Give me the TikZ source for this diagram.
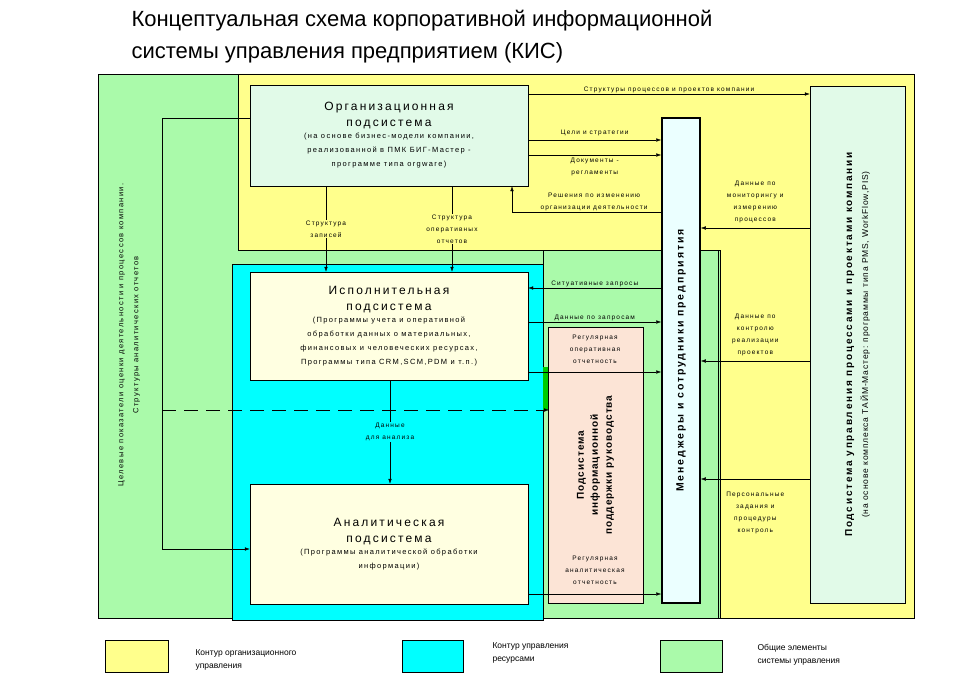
\documentclass[tikz,border=0pt]{standalone}
\usepackage{fontspec}
\setmainfont{Liberation Sans}
\newfontfamily\spaced[LetterSpace=18]{Liberation Sans}
\newfontfamily\wide[LetterSpace=10]{Liberation Sans}
\newcommand\headfont{\spaced\fontsize{12}{16}\selectfont}
\usetikzlibrary{arrows.meta, calc, positioning}
\definecolor{orgyellow}{RGB}{255,255,140}
\definecolor{resblue}{RGB}{0,255,255}
\definecolor{comgreen}{RGB}{170,250,170}
\definecolor{boxmint}{RGB}{225,250,232}
\definecolor{boxcream}{RGB}{255,255,225}
\definecolor{boxpink}{RGB}{252,228,214}
\definecolor{boxice}{RGB}{235,255,255}
\tikzset{
  arr/.style={-{Latex[length=5pt,width=3.5pt]}, thin},
  lbl/.style={font=\spaced\fontsize{6.5}{12}\selectfont, align=center, inner sep=1pt},
  sub/.style={draw, thin, align=center, font=\spaced\fontsize{7.5}{14}\selectfont},
}
\begin{document}
\begin{tikzpicture}[x=1pt, y=-1pt]
\useasboundingbox (0,0) rectangle (964,682);
\fill[white] (0,0) rectangle (964,682);

% Title
\node[anchor=west, font=\fontsize{22}{32}\selectfont, align=left] (title) at (128,37)
  {Концептуальная схема корпоративной информационной\\системы управления предприятием (КИС)};

% Contours
\draw[fill=comgreen] (98,74) rectangle (720,618);
\draw[fill=orgyellow] (238,74) -- (914,74) -- (914,618) -- (720,618) -- (720,250) -- (238,250) -- cycle;
\draw[fill=comgreen] (543,250) rectangle (718,618);
\draw[fill=resblue] (232,264) rectangle (543,620);
\fill[green!80!black] (543,367) rectangle (549,410);

% Subsystems
\node[sub, fill=boxmint, minimum width=278, minimum height=101] (org) at (389,135.5)
  {\parbox{270pt}{\centering{\headfont Организационная\\подсистема\\}\vspace{-2pt}(на основе бизнес-модели компании,\\реализованной в ПМК БИГ-Мастер -\\программе типа orgware)}};
\node[sub, fill=boxcream, minimum width=278, minimum height=108] (exec) at (389,326)
  {\parbox{270pt}{\centering{\headfont Исполнительная\\подсистема\\}\vspace{-2pt}(Программы учета и оперативной\\обработки данных о материальных,\\финансовых и человеческих ресурсах,\\Программы типа CRM,SCM,PDM и т.п.)}};
\node[sub, fill=boxcream, minimum width=278, minimum height=120] (anal) at (389,544)
  {\parbox{270pt}{\centering{\headfont Аналитическая\\подсистема\\}\vspace{-2pt}(Программы аналитической обработки\\информации)}};
\node[draw, thin, fill=boxpink, minimum width=95, minimum height=276] (eis) at (595.5,465) {};
\node[rotate=90, align=center, font=\wide\bfseries\fontsize{10}{14}\selectfont] at (eis.center)
  {Подсистема\\информационной\\поддержки руководства};
\node[draw, line width=1.5pt, fill=boxice, minimum width=38, minimum height=485] (mgr) at (681,360.5) {};
\node[rotate=90, font=\spaced\bfseries\fontsize{10.5}{13}\selectfont] at (mgr.center)
  {Менеджеры и сотрудники предприятия};
\node[draw, thin, fill=boxmint, minimum width=95, minimum height=517] (pms) at (857.5,344.5) {};
\node[rotate=90, align=center, font=\wide\fontsize{8.5}{16}\selectfont] at (pms.center)
  {{\spaced\bfseries\fontsize{10}{16}\selectfont Подсистема управления процессами и проектами компании}\\(на основе комплекса ТАЙМ-Мастер: программы типа PMS, WorkFlow,PIS)};

% Left side text
\node[rotate=90, align=center, font=\spaced\fontsize{7.5}{15}\selectfont] (goals) at (129,335)
  {Целевые показатели оценки деятельности и процессов компании.\\Структуры аналитических отчетов};

% Org links
\draw[arr] (org.east |- 0,94) -- (pms.west |- 0,94)
  node[lbl, midway, above] {Структуры процессов и проектов компании};
\draw[arr] (org.east |- 0,140) -- (mgr.west |- 0,140)
  node[lbl, midway, above=3pt] {Цели и стратегии};
\draw[arr] (org.east |- 0,155) -- (mgr.west |- 0,155)
  node[lbl, midway, below=2pt] {Документы -\\регламенты};
\draw[arr] (mgr.west |- 0,212) -- (512,212)
  node[lbl, pos=0.45, above] {Решения по изменению\\организации деятельности} -- (org.south -| 512,0);
\draw[arr] (pms.west |- 0,228) -- (mgr.east |- 0,228)
  node[lbl, midway, above=4pt] {Данные по\\мониторингу и\\измерению\\процессов};
\draw[arr] (org.south -| 326,0) -- (exec.north -| 326,0)
  node[lbl, midway, fill=orgyellow] {Структура\\записей};
\draw[arr] (org.south -| 452,0) -- (exec.north -| 452,0)
  node[lbl, midway, fill=orgyellow] {Структура\\оперативных\\отчетов};

% Exec links
\draw[arr] (mgr.west |- 0,288) -- (exec.east |- 0,288)
  node[lbl, midway, above] {Ситуативные запросы};
\draw[arr] (exec.east |- 0,322) -- (mgr.west |- 0,322)
  node[lbl, midway, above] {Данные по запросам};
\draw[arr] (exec.east |- 0,372) -- (mgr.west |- 0,372);
\node[lbl] (oprep) at (595,349) {Регулярная\\оперативная\\отчетность};
\draw[arr] (exec.south -| 390,0) -- (anal.north -| 390,0)
  node[lbl, midway, fill=resblue] {Данные\\для анализа};
\draw[arr] (anal.east |- 0,594) -- (mgr.west |- 0,594);
\node[lbl] (anrep) at (595,570) {Регулярная\\аналитическая\\отчетность};

% PMS links
\draw[arr] (pms.west |- 0,361) -- (mgr.east |- 0,361)
  node[lbl, midway, above=4pt] {Данные по\\контролю\\реализации\\проектов};
\draw[arr] (pms.west |- 0,479) -- (mgr.east |- 0,479)
  node[lbl, midway, below=12pt] {Персональные\\задания и\\процедуры\\контроль};

% Left loop
\draw[arr] (org.west |- 0,118) -- (162,118) -- (162,549) -- (anal.west |- 0,549);
\draw[arr, dash pattern=on 14pt off 8pt] (162,410) -- (549,410);

% Legend
\draw[fill=orgyellow] (105,640) rectangle (168,672);
\node[anchor=west, align=left, font=\fontsize{8.5}{13}\selectfont] (lgorg) at (192,660) {Контур организационного\\управления};
\draw[fill=resblue] (402,640) rectangle (463,672);
\node[anchor=west, align=left, font=\fontsize{8.5}{13}\selectfont] (lgres) at (489,653) {Контур управления\\ресурсами};
\draw[fill=comgreen] (660,640) rectangle (722,672);
\node[anchor=west, align=left, font=\fontsize{8.5}{13}\selectfont] (lgcom) at (754,655) {Общие элементы\\системы управления};
\end{tikzpicture}
\end{document}
